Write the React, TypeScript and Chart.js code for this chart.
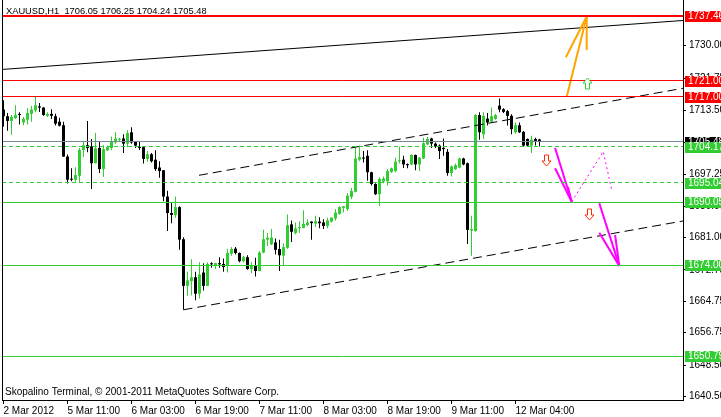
import React, { useEffect, useRef } from "react";
import { Chart, registerables } from "chart.js";

Chart.register(...registerables);

// ---------- data ----------
const symbolName = "XAUUSD";
const timeframe = "H1";
const copyrightText = "Skopalino Terminal, © 2001-2011 MetaQuotes Software Corp.";

const opens = [
  1713.7, 1712.0, 1710.8, 1711.5, 1712.5, 1710.4, 1711.1, 1712.6, 1713.5, 1714.5,
  1714.2, 1712.1, 1712.6, 1712.0, 1710.6, 1709.7, 1701.7, 1696.0, 1695.8, 1696.8,
  1703.4, 1704.6, 1704.3, 1700.0, 1703.9, 1698.5, 1703.3, 1703.9, 1705.3, 1706.0,
  1706.3, 1705.0, 1707.9, 1705.5, 1704.1, 1704.1, 1701.1, 1702.3, 1700.9, 1698.9,
  1698.2, 1691.5, 1687.3, 1686.8, 1688.8, 1680.6, 1668.7, 1669.9, 1670.9, 1666.7,
  1672.1, 1668.7, 1674.3, 1673.8, 1674.5, 1674.3, 1674.0, 1676.9, 1678.2, 1677.1,
  1675.0, 1676.0, 1673.0, 1673.8, 1672.5, 1677.2, 1680.5, 1679.3, 1679.8, 1678.1,
  1676.4, 1678.4, 1684.4, 1682.2, 1683.4, 1683.5, 1684.2, 1685.1, 1684.6, 1685.1,
  1684.9, 1684.0, 1685.1, 1685.9, 1687.1, 1688.6, 1688.3, 1691.4, 1692.7, 1700.9,
  1701.4, 1701.9, 1697.7, 1694.7, 1692.1, 1695.3, 1695.4, 1697.8, 1698.0, 1700.5,
  1700.9, 1699.7, 1699.7, 1702.1, 1699.7, 1701.2, 1704.8, 1706.3, 1705.0, 1704.5,
  1703.9, 1702.9, 1697.5, 1698.5, 1698.9, 1701.2, 1700.0, 1682.8, 1682.7, 1712.3,
  1707.4, 1711.4, 1710.6, 1711.3, 1714.7, 1713.8, 1713.3, 1712.1, 1707.9, 1709.7,
  1708.0, 1706.2, 1704.5, 1706.2, 1706.05,
];
const highs = [
  1716.1, 1712.8, 1712.3, 1714.8, 1713.0, 1711.8, 1714.0, 1714.7, 1717.1, 1715.4,
  1714.3, 1713.0, 1713.8, 1712.6, 1711.6, 1710.6, 1702.2, 1698.7, 1699.0, 1703.9,
  1705.5, 1710.8, 1706.2, 1707.7, 1705.7, 1704.6, 1704.5, 1706.8, 1707.9, 1706.5,
  1707.4, 1708.4, 1709.2, 1705.7, 1705.7, 1704.3, 1703.1, 1702.6, 1703.3, 1700.5,
  1698.3, 1693.0, 1690.0, 1691.5, 1689.0, 1681.1, 1672.3, 1675.5, 1672.3, 1674.7,
  1674.5, 1674.7, 1674.7, 1674.6, 1676.0, 1675.7, 1678.2, 1678.6, 1678.6, 1677.2,
  1676.4, 1676.5, 1674.7, 1675.9, 1677.6, 1683.0, 1682.2, 1683.2, 1680.8, 1680.5,
  1679.6, 1686.9, 1685.4, 1684.9, 1685.2, 1688.0, 1685.7, 1685.2, 1686.6, 1686.2,
  1685.7, 1686.1, 1686.2, 1688.3, 1689.0, 1689.1, 1692.4, 1693.7, 1703.9, 1704.5,
  1703.1, 1703.3, 1697.8, 1694.9, 1696.4, 1696.6, 1698.5, 1698.9, 1701.4, 1704.3,
  1701.9, 1699.9, 1702.2, 1702.2, 1701.6, 1706.5, 1706.7, 1706.5, 1705.3, 1704.8,
  1706.3, 1703.6, 1699.4, 1699.9, 1701.4, 1701.4, 1700.2, 1686.6, 1712.5, 1713.0,
  1713.0, 1712.8, 1714.2, 1712.6, 1716.5, 1714.0, 1713.6, 1712.5, 1710.4, 1710.4,
  1708.2, 1706.3, 1707.0, 1706.5, 1706.25,
];
const lows = [
  1709.4, 1708.3, 1707.3, 1711.3, 1709.9, 1709.7, 1709.9, 1710.6, 1713.0, 1713.1,
  1712.1, 1711.8, 1711.3, 1709.6, 1709.4, 1701.6, 1694.8, 1695.4, 1695.3, 1695.1,
  1701.6, 1702.8, 1693.4, 1699.9, 1697.5, 1696.5, 1703.1, 1703.4, 1705.0, 1705.7,
  1702.6, 1704.1, 1705.0, 1703.9, 1703.4, 1699.9, 1700.4, 1700.2, 1698.0, 1696.3,
  1690.3, 1682.7, 1684.7, 1686.1, 1677.9, 1662.6, 1666.2, 1666.3, 1665.0, 1665.5,
  1667.5, 1668.7, 1673.3, 1673.0, 1673.3, 1672.3, 1672.1, 1676.4, 1676.7, 1674.7,
  1674.7, 1672.8, 1671.9, 1671.1, 1672.5, 1677.0, 1678.9, 1679.1, 1676.7, 1672.5,
  1674.0, 1678.2, 1679.9, 1681.8, 1682.2, 1683.4, 1683.9, 1680.5, 1683.7, 1683.4,
  1683.2, 1683.4, 1684.9, 1685.4, 1686.8, 1687.4, 1687.8, 1690.8, 1692.5, 1700.5,
  1700.2, 1695.5, 1694.3, 1691.9, 1689.1, 1694.9, 1694.3, 1697.5, 1697.7, 1700.0,
  1698.8, 1698.7, 1699.5, 1698.2, 1698.0, 1701.1, 1704.6, 1703.9, 1703.9, 1701.1,
  1701.9, 1696.8, 1696.6, 1698.3, 1698.7, 1699.5, 1679.4, 1676.4, 1682.5, 1706.0,
  1706.2, 1709.6, 1710.4, 1711.1, 1713.0, 1712.8, 1709.6, 1707.4, 1707.5, 1707.7,
  1704.3, 1704.3, 1702.6, 1704.5, 1704.24,
];
const closes = [
  1712.0, 1710.8, 1711.8, 1712.3, 1712.3, 1711.3, 1712.8, 1713.7, 1714.8, 1714.2,
  1712.3, 1712.6, 1712.1, 1710.1, 1709.6, 1701.7, 1695.8, 1695.8, 1697.0, 1703.4,
  1704.6, 1703.9, 1700.0, 1703.8, 1698.5, 1703.6, 1704.1, 1705.5, 1706.3, 1706.2,
  1705.0, 1707.7, 1705.3, 1704.5, 1703.9, 1701.1, 1702.3, 1700.5, 1698.5, 1698.0,
  1691.5, 1687.3, 1686.8, 1688.8, 1680.5, 1668.7, 1670.1, 1670.9, 1666.7, 1671.6,
  1668.7, 1674.3, 1674.2, 1674.5, 1674.2, 1673.5, 1677.1, 1678.1, 1677.1, 1675.0,
  1676.0, 1673.0, 1674.0, 1672.5, 1677.2, 1680.6, 1681.0, 1681.0, 1677.9, 1676.5,
  1678.6, 1684.2, 1682.5, 1683.4, 1683.7, 1684.5, 1684.9, 1684.7, 1685.2, 1684.7,
  1684.0, 1685.4, 1686.1, 1687.4, 1688.8, 1689.0, 1691.7, 1692.9, 1701.2, 1701.6,
  1701.2, 1697.7, 1694.7, 1692.1, 1696.0, 1696.1, 1698.0, 1698.7, 1700.4, 1700.7,
  1699.7, 1699.5, 1702.1, 1699.7, 1701.4, 1705.1, 1706.2, 1705.0, 1704.3, 1703.1,
  1703.6, 1697.5, 1699.2, 1699.5, 1701.2, 1699.7, 1683.0, 1683.2, 1712.3, 1707.9,
  1712.1, 1710.4, 1712.0, 1712.3, 1713.7, 1713.1, 1712.1, 1708.7, 1709.7, 1707.9,
  1704.5, 1704.5, 1706.0, 1705.7, 1705.48,
];

const timeTickBars = [0, 16, 32, 48, 64, 80, 96, 112, 128];
const timeTickLabels = [
  "2 Mar 2012", "5 Mar 11:00", "6 Mar 03:00", "6 Mar 19:00", "7 Mar 11:00",
  "8 Mar 03:00", "8 Mar 19:00", "9 Mar 11:00", "12 Mar 04:00",
];
const priceTicks = [1730, 1721.75, 1713.5, 1705.25, 1697.25, 1689, 1681, 1672.75, 1664.75, 1656.75, 1648.5, 1640.5];

const priceMin = 1639.57;
const priceMax = 1741.66;
const barMin = -0.375;
const barMax = 169.875;

// horizontal levels
const levelPrices = [1737.46, 1721.0, 1717.0, 1705.48, 1704.17, 1695.04, 1690.05, 1674.0, 1650.79];
const levelKinds = ["resist", "resist", "resist", "bid", "target", "target", "support", "support", "support"];

// trend lines [bar, price] pairs
const trendTop = [[-0.375, 1723.93], [169.875, 1736.43]];
const channelUpper = [[48.875, 1696.92], [169.875, 1719.13]];
const channelLower = [[45, 1662.6], [169.875, 1685.26]];

// forecast arrows
const bullArrowShaft = [[140.8, 1716.98], [145.8, 1737.46]];
const bullArrowHeadA = [[145.8, 1737.46], [140.6, 1727.04]];
const bullArrowHeadB = [[145.8, 1737.46], [145.8, 1728.9]];
const bearArrow1Shaft = [[137.9, 1703.87], [142.05, 1690.18]];
const bearArrow1HeadA = [[142.05, 1690.18], [137.9, 1698.71]];
const bearArrow1HeadB = [[142.05, 1690.18], [141.1, 1693.94]];
const bearArrow2Shaft = [[148.95, 1689.78], [153.95, 1673.8]];
const bearArrow2HeadA = [[153.95, 1673.8], [148.95, 1682.27]];
const bearArrow2HeadB = [[153.95, 1673.8], [152.9, 1681.68]];
const pullbackPath = [[142.05, 1690.2], [149.95, 1702.95], [152.05, 1693.17]];

const upSignals = [[145.9, 1720.35]];
const downSignals = [[135.6, 1700.95], [146.4, 1687.0]];

// ---------- styles ----------
const BULL = "#32cd32";
const BEAR = "#000000";
const FONT = '"Liberation Sans", Arial, sans-serif';
const kindColor: Record<string, string> = {
  resist: "#ff0000",
  bid: "#778899",
  target: "#32cd32",
  support: "#32cd32",
};
const kindLabel: Record<string, string> = {
  resist: "#ff0000",
  bid: "#000000",
  target: "#32cd32",
  support: "#32cd32",
};

function seg(points: number[][], color: string, width: number, dash: number[] = [], order = 0) {
  return {
    type: "line" as const,
    data: points.map((p) => ({ x: p[0], y: p[1] })),
    borderColor: color,
    borderWidth: width,
    borderDash: dash,
    pointRadius: 0,
    fill: false,
    tension: 0,
    order,
    borderCapStyle: "butt" as const,
  };
}

function hollowArrow(ctx: CanvasRenderingContext2D, cx: number, cy: number, up: boolean, color: string) {
  const hw = 4.5;
  const sw = 2;
  const hh = 5.5;
  const s = up ? 1 : -1;
  ctx.beginPath();
  ctx.moveTo(cx, cy - s * hh);
  ctx.lineTo(cx + hw, cy - s * 0.5);
  ctx.lineTo(cx + sw, cy - s * 0.5);
  ctx.lineTo(cx + sw, cy + s * hh);
  ctx.lineTo(cx - sw, cy + s * hh);
  ctx.lineTo(cx - sw, cy - s * 0.5);
  ctx.lineTo(cx - hw, cy - s * 0.5);
  ctx.closePath();
  ctx.fillStyle = "#ffffff";
  ctx.fill();
  ctx.strokeStyle = color;
  ctx.lineWidth = 1;
  ctx.stroke();
}

const noPad = (s: any) => {
  s.paddingTop = 0;
  s.paddingBottom = 0;
  s.paddingLeft = 0;
  s.paddingRight = 0;
};

const overlayPlugin = {
  id: "mtOverlay",
  afterDatasetsDraw(chart: any) {
    const ctx: CanvasRenderingContext2D = chart.ctx;
    const xs = chart.scales.x;
    const ys = chart.scales.y;
    const area = chart.chartArea;
    ctx.save();
    ctx.beginPath();
    ctx.rect(area.left, area.top, area.right - area.left, area.bottom - area.top);
    ctx.clip();
    // horizontal price levels, snapped to whole pixels
    const x0 = xs.getPixelForValue(barMin);
    const x1 = xs.getPixelForValue(barMax);
    levelPrices.forEach((p, k) => {
      const kind = levelKinds[k];
      const w = k === 0 ? 2 : 1;
      const yRaw = ys.getPixelForValue(p);
      const y = w === 2 ? Math.round(yRaw) : Math.floor(yRaw) + 0.5;
      ctx.beginPath();
      ctx.setLineDash(kind === "target" ? [4, 3] : []);
      ctx.strokeStyle = kindColor[kind];
      ctx.lineWidth = w;
      ctx.moveTo(x0, y);
      ctx.lineTo(x1, y);
      ctx.stroke();
    });
    ctx.setLineDash([]);
    ctx.restore();
    ctx.save();
    upSignals.forEach((p) => {
      hollowArrow(ctx, Math.round(xs.getPixelForValue(p[0])) + 0.5, Math.round(ys.getPixelForValue(p[1])) + 0.5, true, BULL);
    });
    downSignals.forEach((p) => {
      hollowArrow(ctx, Math.round(xs.getPixelForValue(p[0])) + 0.5, Math.round(ys.getPixelForValue(p[1])) + 0.5, false, "#ff2a00");
    });
    ctx.restore();
  },
  afterDraw(chart: any) {
    const ctx: CanvasRenderingContext2D = chart.ctx;
    const ys = chart.scales.y;
    const area = chart.chartArea;
    ctx.save();
    // left frame line
    ctx.fillStyle = "#000";
    ctx.fillRect(Math.round(area.left), 0, 1, Math.round(area.bottom));
    // price labels
    ctx.font = `10px ${FONT}`;
    ctx.textBaseline = "middle";
    ctx.textAlign = "left";
    levelPrices.forEach((p, k) => {
      const y = Math.round(ys.getPixelForValue(p));
      ctx.fillStyle = kindLabel[levelKinds[k]];
      ctx.fillRect(Math.round(area.right) + 2, y - 5, 40, 11);
      ctx.fillStyle = "#ffffff";
      ctx.fillText(p.toFixed(2), Math.round(area.right) + 5, y + 0.5);
    });
    // texts
    const n = closes.length - 1;
    ctx.fillStyle = "#000";
    ctx.textBaseline = "alphabetic";
    ctx.font = `9.3px ${FONT}`;
    const header = `${symbolName},${timeframe}  ${opens[n].toFixed(2)} ${highs[n].toFixed(2)} ${lows[n].toFixed(2)} ${closes[n].toFixed(2)}`;
    ctx.fillText(header, 6, 14);
    ctx.font = `10px ${FONT}`;
    ctx.fillText(copyrightText, 5, 395);
    ctx.restore();
  },
};

export default function App() {
  const ref = useRef<HTMLCanvasElement | null>(null);
  useEffect(() => {
    if (!ref.current) return;
    const idx = opens.map((_, i) => i);
    const colors = idx.map((i) => (closes[i] >= opens[i] ? BULL : BEAR));
    const chart = new Chart(ref.current, {
      type: "bar",
      data: {
        datasets: [
          {
            type: "bar",
            data: idx.map((i) => ({ x: i, y: [lows[i], highs[i]] })) as any,
            backgroundColor: colors,
            borderWidth: 0,
            barThickness: 1,
            grouped: false,
            inflateAmount: 0,
            order: 6,
          } as any,
          {
            type: "bar",
            data: idx.map((i) => ({ x: i, y: [opens[i], closes[i]] })) as any,
            backgroundColor: colors,
            borderWidth: 0,
            barThickness: 3,
            minBarLength: 1,
            grouped: false,
            inflateAmount: 0,
            order: 5,
          } as any,
          seg(trendTop, "#000000", 1, [], 0),
          seg(channelUpper, "#000000", 1, [9, 5], 0),
          seg(channelLower, "#000000", 1, [9, 5], 0),
          seg(bullArrowShaft, "#ffa500", 2, [], -1),
          seg(bullArrowHeadA, "#ffa500", 2, [], -1),
          seg(bullArrowHeadB, "#ffa500", 2, [], -1),
          seg(bearArrow1Shaft, "#ff00ff", 2, [], -1),
          seg(bearArrow1HeadA, "#ff00ff", 2, [], -1),
          seg(bearArrow1HeadB, "#ff00ff", 2, [], -1),
          seg(bearArrow2Shaft, "#ff00ff", 2, [], -1),
          seg(bearArrow2HeadA, "#ff00ff", 2, [], -1),
          seg(bearArrow2HeadB, "#ff00ff", 2, [], -1),
          seg(pullbackPath, "#ff00ff", 1, [2, 3], -1),
        ] as any,
      },
      options: {
        responsive: false,
        devicePixelRatio: 1,
        animation: false,
        events: [],
        layout: { padding: { left: 2, top: 0, right: 0, bottom: 0 } },
        plugins: { legend: { display: false }, tooltip: { enabled: false }, title: { display: false } },
        scales: {
          x: {
            type: "linear",
            min: barMin,
            max: barMax,
            offset: false,
            afterFit: (s: any) => {
              s.height = 17;
              noPad(s);
            },
            afterBuildTicks: (s: any) => {
              s.ticks = timeTickBars.map((v) => ({ value: v }));
            },
            ticks: {
              autoSkip: false,
              maxRotation: 0,
              minRotation: 0,
              align: "start",
              padding: 1,
              color: "#000",
              font: { family: FONT, size: 10 },
              callback: (_v: any, i: number) => timeTickLabels[i],
            },
            grid: { drawOnChartArea: false, offset: false, tickLength: 4, color: "#000" },
            border: { color: "#000" },
          },
          y: {
            type: "linear",
            position: "right",
            min: priceMin,
            max: priceMax,
            afterFit: (s: any) => {
              s.width = 38;
              noPad(s);
            },
            afterBuildTicks: (s: any) => {
              s.ticks = priceTicks.map((v) => ({ value: v }));
            },
            ticks: {
              autoSkip: false,
              padding: 3,
              color: "#000",
              font: { family: FONT, size: 10 },
              callback: (v: any) => Number(v).toFixed(2),
            },
            grid: { drawOnChartArea: false, tickLength: 3, color: "#000" },
            border: { color: "#000" },
          },
        },
      } as any,
      plugins: [overlayPlugin],
    });
    return () => chart.destroy();
  }, []);
  return (
    <div style={{ position: "absolute", left: 0, top: 0, width: 721, height: 417, background: "#fff" }}>
      <canvas ref={ref} width={721} height={417} style={{ display: "block" }} />
    </div>
  );
}
